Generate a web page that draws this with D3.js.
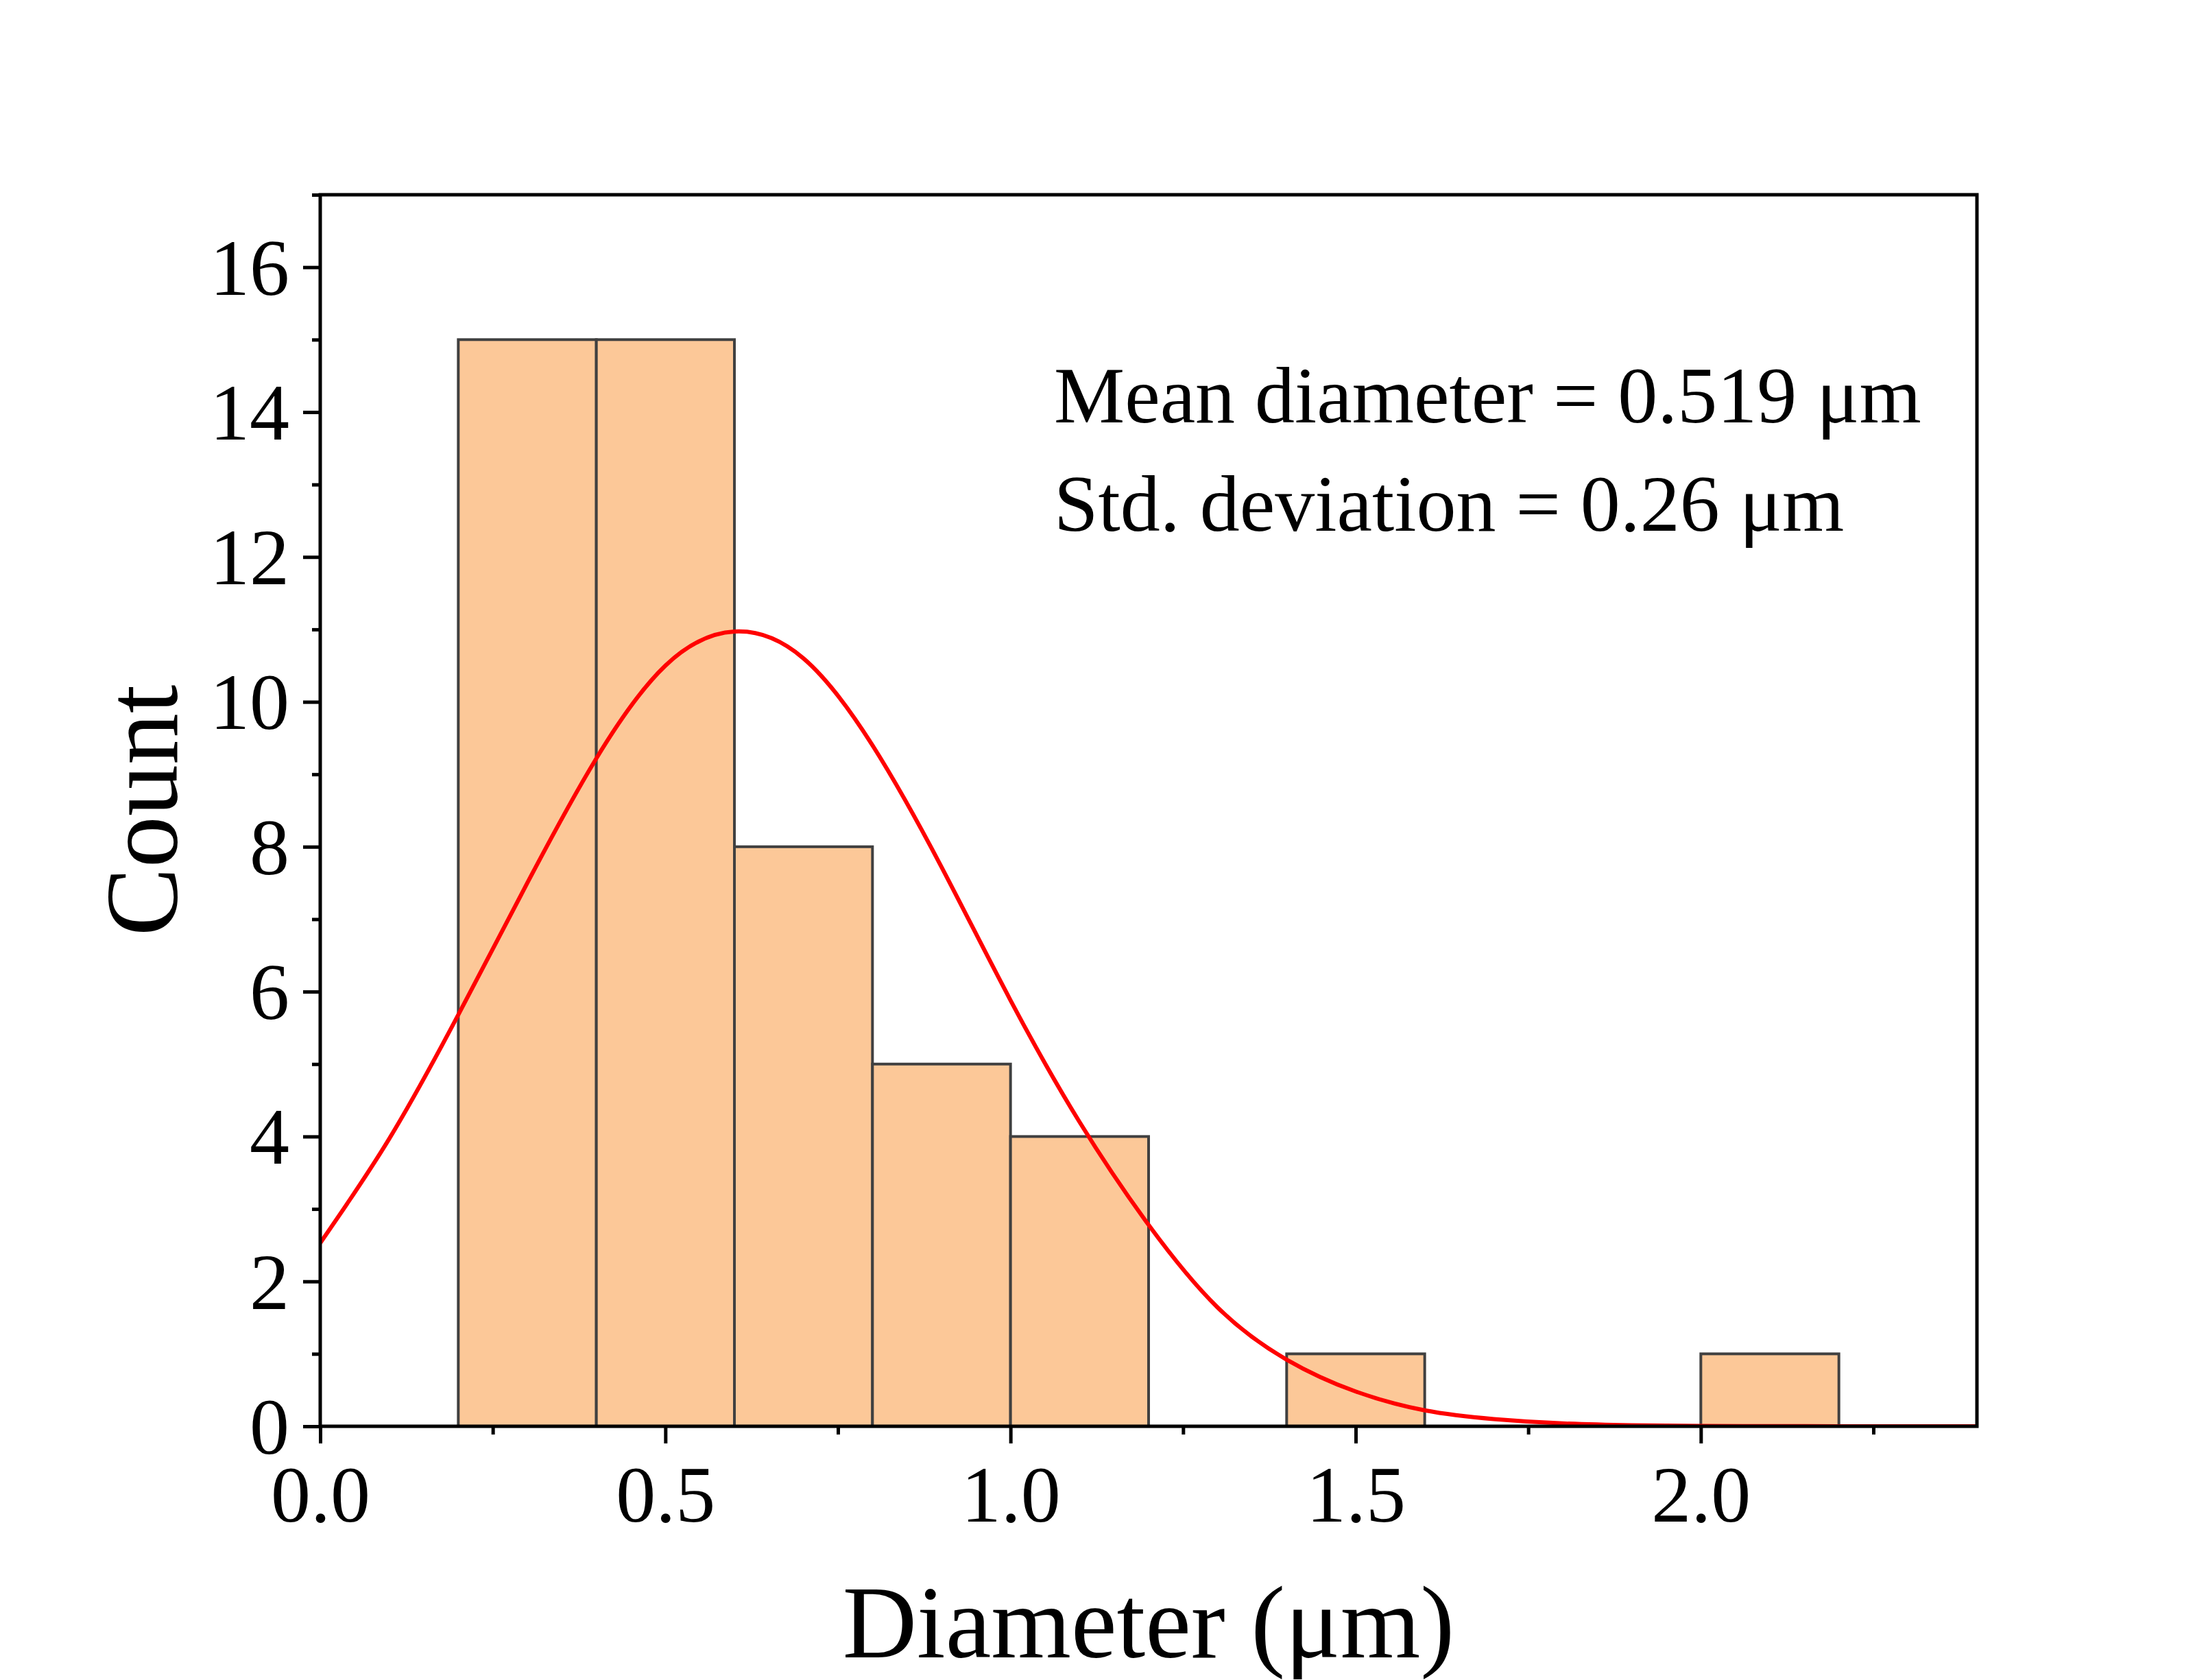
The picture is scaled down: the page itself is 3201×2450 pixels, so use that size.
<!DOCTYPE html>
<html>
<head>
<meta charset="utf-8">
<script src="https://cdn.jsdelivr.net/npm/d3@7"></script>
<style>
  html, body { margin: 0; padding: 0; background: #fff; }
  svg { display: block; }
  text { font-family: "Liberation Serif", "Times New Roman", serif; fill: #000; }
</style>
</head>
<body>
<svg id="chart"></svg>
<script>
// histogram bins (µm) and counts
const binStarts = [0.2, 0.4, 0.6, 0.8, 1.0, 1.2, 1.4, 1.6, 1.8, 2.0];
const binEnds   = [0.4, 0.6, 0.8, 1.0, 1.2, 1.4, 1.6, 1.8, 2.0, 2.2];
const counts    = [15, 15, 8, 5, 4, 0, 1, 0, 0, 1];

// fitted curve
const curveX = [0.0, 0.1, 0.2, 0.3, 0.4, 0.5, 0.6, 0.7, 0.8, 0.9, 1.0, 1.1, 1.2,
                1.3, 1.4, 1.5, 1.6, 1.7, 1.8, 1.9, 2.0, 2.1, 2.2, 2.3, 2.4];
const curveY = [2.53, 3.97, 5.68, 7.5, 9.22, 10.5, 10.97, 10.6, 9.4, 7.72, 5.88, 4.2, 2.78,
                1.64, 0.92, 0.48, 0.22, 0.1, 0.04, 0.015, 0.005, 0.002, 0.001, 0, 0];

const xMajor = [0, 0.5, 1.0, 1.5, 2.0];
const xMinor = [0.25, 0.75, 1.25, 1.75, 2.25];
const yMajor = [0, 2, 4, 6, 8, 10, 12, 14, 16];
const yMinor = [1, 3, 5, 7, 9, 11, 13, 15, 17];

const notes = ['Mean diameter = 0.519 \u03bcm', 'Std. deviation = 0.26 \u03bcm'];

const width = 3201;
const height = 2450;
const margin = { top: 284, right: 318, bottom: 370, left: 467 };

const svg = d3.select('#chart').attr('width', width).attr('height', height);
svg.append('rect').attr('width', width).attr('height', height).attr('fill', '#fff');

const x = d3.scaleLinear().domain([0, 2.4]).range([margin.left, width - margin.right]);
const y = d3.scaleLinear().domain([0, 17]).range([height - margin.bottom, margin.top]);

svg.append('defs').append('clipPath').attr('id', 'plot')
    .append('rect')
    .attr('x', x(0)).attr('y', y(17))
    .attr('width', x(2.4) - x(0)).attr('height', y(0) - y(17));

const bins = binStarts.map((s, i) => ({ x0: s, x1: binEnds[i], n: counts[i] })).filter(d => d.n > 0);

svg.append('g')
    .selectAll('rect')
    .data(bins)
    .join('rect')
    .attr('x', d => x(d.x0))
    .attr('y', d => y(d.n))
    .attr('width', d => x(d.x1) - x(d.x0))
    .attr('height', d => y(0) - y(d.n))
    .attr('fill', '#fcc898')
    .attr('stroke', '#404040')
    .attr('stroke-width', 4);

const line = d3.line()
    .x(d => x(d[0]))
    .y(d => y(d[1]))
    .curve(d3.curveNatural);

svg.append('path')
    .datum(curveX.map((v, i) => [v, curveY[i]]))
    .attr('clip-path', 'url(#plot)')
    .attr('fill', 'none')
    .attr('stroke', '#ff0000')
    .attr('stroke-width', 6)
    .attr('d', line);

// axes
const tickFont = 116;

function styleAxis(g) {
    g.select('.domain').remove();
    g.selectAll('line').attr('stroke', '#000').attr('stroke-width', 5);
}

svg.append('g')
    .attr('transform', `translate(0,${y(0)})`)
    .call(d3.axisBottom(x).tickValues(xMinor).tickSize(12).tickFormat(''))
    .call(styleAxis);

svg.append('g')
    .attr('transform', `translate(0,${y(0)})`)
    .call(d3.axisBottom(x).tickValues(xMajor).tickSize(25).tickPadding(32).tickFormat(d3.format('.1f')))
    .call(styleAxis)
    .call(g => g.selectAll('text')
        .attr('font-size', tickFont)
        .attr('font-family', '"Liberation Serif", "Times New Roman", serif'));

svg.append('g')
    .attr('transform', `translate(${x(0)},0)`)
    .call(d3.axisLeft(y).tickValues(yMinor).tickSize(12).tickFormat(''))
    .call(styleAxis);

svg.append('g')
    .attr('transform', `translate(${x(0)},0)`)
    .call(d3.axisLeft(y).tickValues(yMajor).tickSize(25).tickPadding(20).tickFormat(d3.format('d')))
    .call(styleAxis)
    .call(g => g.selectAll('text')
        .attr('font-size', tickFont)
        .attr('dy', '0.34em')
        .attr('font-family', '"Liberation Serif", "Times New Roman", serif'));

// frame
svg.append('rect')
    .attr('x', x(0)).attr('y', y(17))
    .attr('width', x(2.4) - x(0)).attr('height', y(0) - y(17))
    .attr('fill', 'none')
    .attr('stroke', '#000')
    .attr('stroke-width', 5);

// titles
svg.append('text')
    .attr('x', (x(0) + x(2.4)) / 2)
    .attr('y', 2417)
    .attr('text-anchor', 'middle')
    .attr('font-size', 150)
    .text('Diameter (\u03bcm)');

svg.append('text')
    .attr('transform', `translate(258,${(y(0) + y(17)) / 2}) rotate(-90)`)
    .attr('text-anchor', 'middle')
    .attr('font-size', 150)
    .text('Count');

svg.append('g')
    .selectAll('text')
    .data(notes)
    .join('text')
    .attr('x', 1537)
    .attr('y', (d, i) => 616 + i * 158)
    .attr('font-size', 116)
    .text(d => d);
</script>
</body>
</html>
